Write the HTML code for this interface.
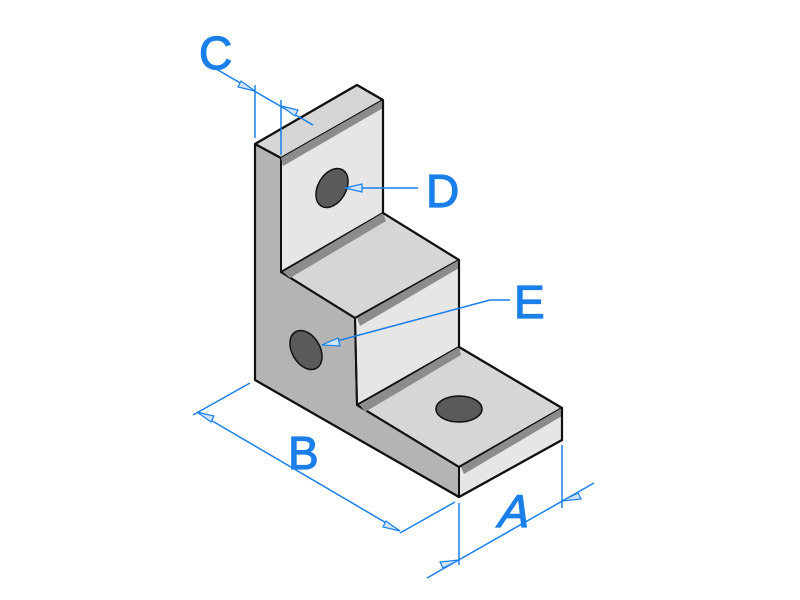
<!DOCTYPE html>
<html><head><style>html,body{margin:0;padding:0;background:#fff}svg{display:block}</style></head>
<body>
<svg width="800" height="600" viewBox="0 0 800 600" xmlns="http://www.w3.org/2000/svg">
<g stroke="#111" stroke-width="2" stroke-linejoin="round">
<polygon fill="#b4b4b4" points="255,144 357,85 383,100 383,213 459,260 459,347 562,408 562,440 459,497 255,380"/>
<polygon fill="#d6d6d6" points="255,144 357,85 383,100 281,158"/>
<polygon fill="#e6e6e6" points="281,158 383,100 383,213 287,272 281,272"/>
<polygon fill="#d6d6d6" points="281,272 383,213 459,260 355,318"/>
<polygon fill="#e6e6e6" points="355,318 459,260 459,347 357,405"/>
<polygon fill="#d6d6d6" points="357,405 459,347 562,408 459,467"/>
<polygon fill="#e6e6e6" points="459,467 562,408 562,440 459,497"/>
<polyline fill="none" points="281,158 281,272 355,318 357,405 459,467 459,497"/>
</g>
<g fill="#8c8c8c">
<polygon points="281,158 383,100 383,108 283,166"/>
<polygon points="283,272 383,213 386,221 290,278"/>
<polygon points="357,318 459,260 459,268 360,326"/>
<polygon points="360,405 459,347 461,355 365,412"/>
<polygon points="461,467 562,408 562,416 464,474"/>
</g>
<g stroke="#111" stroke-width="2.2" fill="none" stroke-linejoin="round">
<polygon points="255,144 357,85 383,100 383,213 459,260 459,347 562,408 562,440 459,497 255,380"/>
<line x1="281" y1="158" x2="255" y2="144"/>
</g>
<g fill="#5a5a5a" stroke="#111" stroke-width="1.5">
<ellipse cx="332" cy="188" rx="14" ry="21" transform="rotate(30 332 188)"/>
<ellipse cx="306" cy="350" rx="14" ry="21" transform="rotate(-30 306 350)"/>
<ellipse cx="459" cy="409" rx="23" ry="13"/>
</g>
<g stroke="#1a7fe8" stroke-width="1.5" fill="none">
<line x1="211" y1="66" x2="313" y2="125"/>
<line x1="255" y1="85" x2="255" y2="138"/>
<line x1="281" y1="100" x2="281" y2="155"/>
<line x1="250" y1="383" x2="193" y2="415"/>
<line x1="197" y1="412" x2="400" y2="531"/>
<line x1="400" y1="533" x2="455" y2="502"/>
<line x1="459" y1="503" x2="459" y2="565"/>
<line x1="562" y1="445" x2="562" y2="508"/>
<line x1="427" y1="578" x2="594" y2="483"/>
<polyline points="345,188 418,188"/>
<polyline points="322,345 490,300 510,300"/>
</g>
<g fill="#cfe3fb" stroke="#1a7fe8" stroke-width="1.2">
<polygon points="255,91 238,87 241,81"/>
<polygon points="281,106 298,110 295,116"/>
<polygon points="197,412 214,416 211,422"/>
<polygon points="400,531 383,527 386,521"/>
<polygon points="459,560 443,568 440,562"/>
<polygon points="562,501 578,493 581,499"/>
<polygon points="345,188 362,184 362,192"/>
<polygon points="322,345 338,338 340,346"/>
</g>
<g fill="#1a7fe8" stroke="#1a7fe8" stroke-width="1.2" font-family="Liberation Sans, sans-serif" font-size="46">
<text x="199" y="69">C</text>
<text x="426" y="207">D</text>
<text x="514" y="318">E</text>
<text x="288" y="469">B</text>
<text x="497" y="527" transform="skewX(-15) translate(140 0)">A</text>
</g>
</svg>
</body></html>
